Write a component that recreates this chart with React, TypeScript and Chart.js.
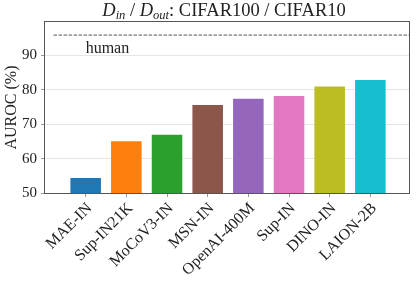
import React, { useEffect, useRef } from 'react';
import { Chart, registerables } from 'chart.js';
Chart.register(...registerables);

const categories = ['MAE-IN', 'Sup-IN21K', 'MoCoV3-IN', 'MSN-IN', 'OpenAI-400M', 'Sup-IN', 'DINO-IN', 'LAION-2B'];
const auroc = [54.65, 65.3, 67.2, 75.9, 77.7, 78.45, 81.25, 83.1];
const barColors = ['#1f77b4', '#ff7f0e', '#2ca02c', '#8c564b', '#9467bd', '#e377c2', '#bcbd22', '#17becf'];
const yTicks = [50, 60, 70, 80, 90];
const yRange = [50, 99.7];
const xRange = [-1, 7.95];
const humanLevel = 95.9;
const humanSpan = [-0.79, 7.95];
const humanLabel = 'human';
const humanLabelAt = [0, 90.6];
const titleParts = [
  { t: 'D', style: 'italic', sub: false },
  { t: 'in', style: 'italic', sub: true },
  { t: ' / ', style: 'normal', sub: false },
  { t: 'D', style: 'italic', sub: false },
  { t: 'out', style: 'italic', sub: true },
  { t: ': CIFAR100 / CIFAR10', style: 'normal', sub: false },
];

const SERIF = "'Liberation Serif', 'Times New Roman', serif";
const TEXT = '#222';

export default function App() {
  const ref = useRef<HTMLCanvasElement>(null);
  useEffect(() => {
    document.body.style.margin = '0';
    const canvas = ref.current!;

    const framePlugin = {
      id: 'frame',
      afterDraw(chart: any) {
        const { ctx, chartArea: a, scales } = chart;
        ctx.save();
        // human label
        ctx.fillStyle = TEXT;
        ctx.font = `16px ${SERIF}`;
        ctx.textAlign = 'left';
        ctx.textBaseline = 'alphabetic';
        ctx.fillText(humanLabel, scales.x.getPixelForValue(humanLabelAt[0]), scales.y.getPixelForValue(humanLabelAt[1]));
        // frame
        ctx.strokeStyle = '#555';
        ctx.lineWidth = 1;
        ctx.strokeRect(Math.round(a.left) - 0.5, Math.round(a.top) - 0.5, Math.round(a.right - a.left) + 1, Math.round(a.bottom - a.top) + 1);
        // title
        const base = 16;
        const fontFor = (p: any) => `${p.style} ${p.sub ? 12.5 : 18.5}px ${SERIF}`;
        let total = 0;
        for (const p of titleParts) {
          ctx.font = fontFor(p);
          total += ctx.measureText(p.t).width;
        }
        let x = (a.left + a.right) / 2 - 3 - total / 2;
        ctx.textBaseline = 'alphabetic';
        for (const p of titleParts) {
          ctx.font = fontFor(p);
          ctx.fillText(p.t, x, p.sub ? base + 3 : base);
          x += ctx.measureText(p.t).width;
        }
        ctx.restore();
      },
    };

    const chart = new Chart(canvas, {
      type: 'bar',
      data: {
        datasets: [
          {
            type: 'bar',
            data: categories.map((c, i) => ({ x: i, y: auroc[i] })),
            backgroundColor: barColors,
            borderColor: 'rgba(255,255,255,0.35)',
            borderWidth: 1,
            categoryPercentage: 0.8,
            barPercentage: 1,
            order: 2,
          } as any,
          {
            type: 'line',
            data: humanSpan.map((x) => ({ x, y: humanLevel })),
            borderColor: '#555',
            borderWidth: 1,
            borderDash: [3.5, 1.5],
            pointRadius: 0,
            fill: false,
            order: 1,
          } as any,
        ],
      },
      options: {
        responsive: false,
        animation: false,
        layout: { padding: { top: 22, right: 7, left: 0, bottom: 0 } },
        plugins: { legend: { display: false }, tooltip: { enabled: false }, title: { display: false } },
        scales: {
          x: {
            type: 'linear',
            min: xRange[0],
            max: xRange[1],
            offset: false,
            grid: { display: true, drawOnChartArea: false, tickLength: 4, tickColor: '#999', offset: false },
            border: { display: false },
            afterBuildTicks: (s: any) => {
              s.ticks = categories.map((_, i) => ({ value: i }));
            },
            afterFit: (s: any) => {
              s.height = 90;
            },
            ticks: {
              autoSkip: false,
              minRotation: 45,
              maxRotation: 45,
              padding: 2,
              labelOffset: 4,
              color: TEXT,
              font: { family: SERIF, size: 16 },
              callback: (v: any) => categories[v] ?? '',
            },
          },
          y: {
            min: yRange[0],
            max: yRange[1],
            afterBuildTicks: (s: any) => {
              s.ticks = yTicks.map((v) => ({ value: v }));
            },
            afterFit: (s: any) => {
              s.width = 45;
            },
            grid: { color: '#e6e6e6', lineWidth: 1, tickLength: 4, tickColor: '#999' },
            border: { display: false },
            ticks: { color: TEXT, font: { family: SERIF, size: 15 }, padding: 4 },
            title: { display: true, text: 'AUROC (%)', color: TEXT, font: { family: SERIF, size: 16 }, padding: { top: 2, bottom: 0 } },
          },
        },
      } as any,
      plugins: [framePlugin],
    });
    return () => chart.destroy();
  }, []);

  return (
    <div style={{ position: 'absolute', left: 0, top: 0, width: 416, height: 283, background: '#fff' }}>
      <canvas ref={ref} width={416} height={283} style={{ width: 416, height: 283 }} />
    </div>
  );
}
